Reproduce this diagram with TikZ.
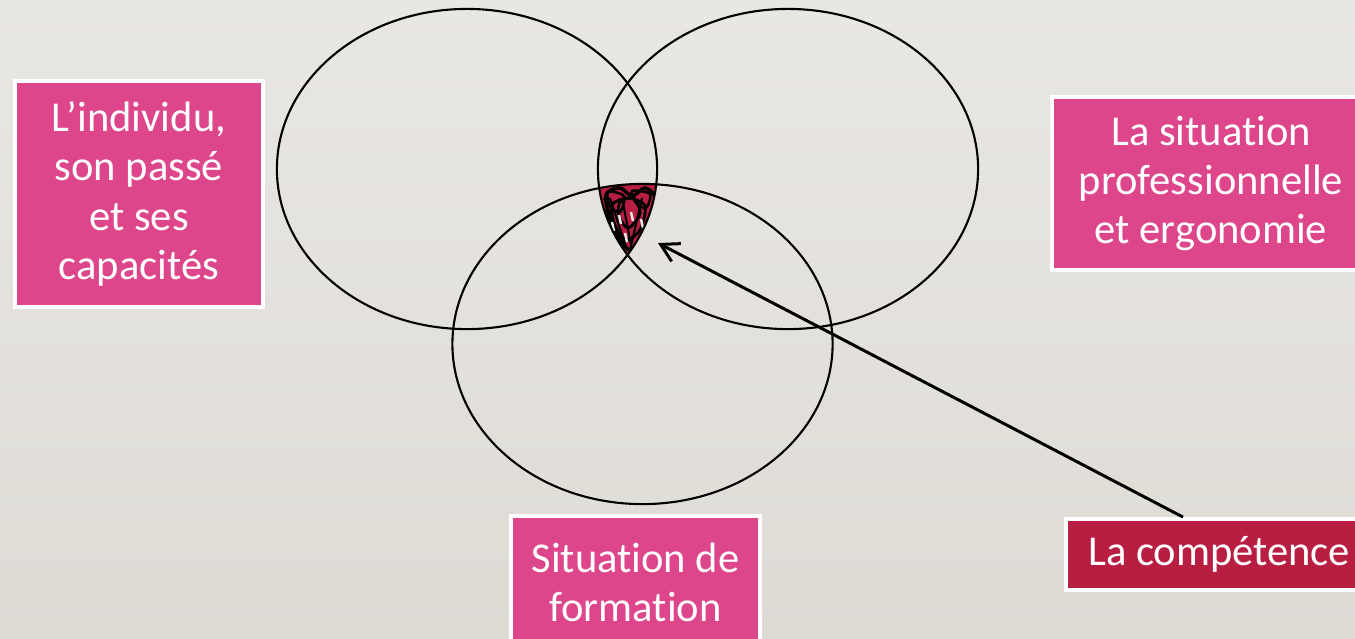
\documentclass[tikz,border=0pt]{standalone}
\usepackage{fontspec}
\setmainfont{Carlito}[Ligatures={TeX,NoCommon}]
\usetikzlibrary{shapes.geometric,arrows.meta}
\definecolor{boxpink}{RGB}{221,70,138}
\definecolor{compred}{RGB}{184,30,66}
\definecolor{bgtop}{RGB}{233,231,227}
\definecolor{bgbot}{RGB}{222,219,213}

\begin{document}
\begin{tikzpicture}[x=0.01cm, y=-0.01cm,
    setbox/.style={rectangle, draw=white, line width=1.1pt, fill=boxpink,
        text=white, inner sep=0pt, align=center,
        font=\fontsize{12.1}{14}\selectfont},
    compbox/.style={setbox, fill=compred},
    ring/.style={ellipse, draw=black, line width=0.6pt,
        minimum width=3.8cm, minimum height=3.2cm, inner sep=0pt},
    pointer/.style={-{Straight Barb[length=1.75mm,width=2mm]}, line width=0.85pt}
]
    % page
    \useasboundingbox (0,0) rectangle (1355,638);
    \clip (0,0) rectangle (1355,638);
    \shade[top color=bgtop, bottom color=bgbot] (0,0) rectangle (1355,638);

    % labels
    \node[setbox, minimum width=2.48cm, minimum height=2.26cm] (person) at (139,194)
        {L’individu,\\son passé\\et ses\\capacités};
    \node[setbox, minimum width=3.18cm, minimum height=1.73cm] (work) at (1211,183.5)
        {La situation\\professionnelle\\et ergonomie};
    \node[setbox, minimum width=2.49cm, minimum height=1.32cm] (training) at (635.5,582)
        {Situation de\\formation};
    \node[compbox, minimum width=3.06cm, minimum height=0.71cm] (skill) at (1219,554.5)
        {La compétence};

    % scribbled core
    \begin{scope}
        \clip (467,169) ellipse [x radius=1.9cm, y radius=1.6cm];
        \clip (788,169) ellipse [x radius=1.9cm, y radius=1.6cm];
        \clip (642.5,344) ellipse [x radius=1.9cm, y radius=1.6cm];
        \fill[compred] (590,180) rectangle (670,260);
        \draw[line width=1pt] plot[smooth cycle] coordinates
            {(606,195) (620,188) (632,196) (645,188) (655,198) (648,225) (630,250) (612,225)};
        \draw[line width=0.8pt] plot[smooth cycle] coordinates
            {(612,205) (628,198) (645,206) (640,230) (626,240) (615,225)};
        \draw[line width=0.8pt] plot[smooth cycle] coordinates
            {(620,202) (634,198) (640,214) (628,228) (619,216)};
        \draw[line width=0.7pt] plot[smooth cycle] coordinates
            {(608,192) (624,196) (620,212) (610,206)};
        \draw[line width=0.7pt] plot[smooth cycle] coordinates
            {(632,191) (650,194) (646,208) (636,203)};
        \foreach \a/\b in {610/627, 642/630, 622/632, 604/624}
            \draw[line width=0.6pt] (\a,198) -- (\b,250);
        \foreach \a/\b in {619/215, 631/212, 625/233, 612/222, 641/219}
            \draw[bgtop, line width=0.7pt] (\a,\b) -- ++(2,9);
    \end{scope}

    % rings
    \node[ring] (selfring) at (467,169) {};
    \node[ring] (workring) at (788,169) {};
    \node[ring] (trainring) at (642.5,344) {};

    % pointer
    \coordinate (core) at (658,243);
    \draw[pointer] ([xshift=-0.36cm]skill.north) -- (core);
\end{tikzpicture}
\end{document}
